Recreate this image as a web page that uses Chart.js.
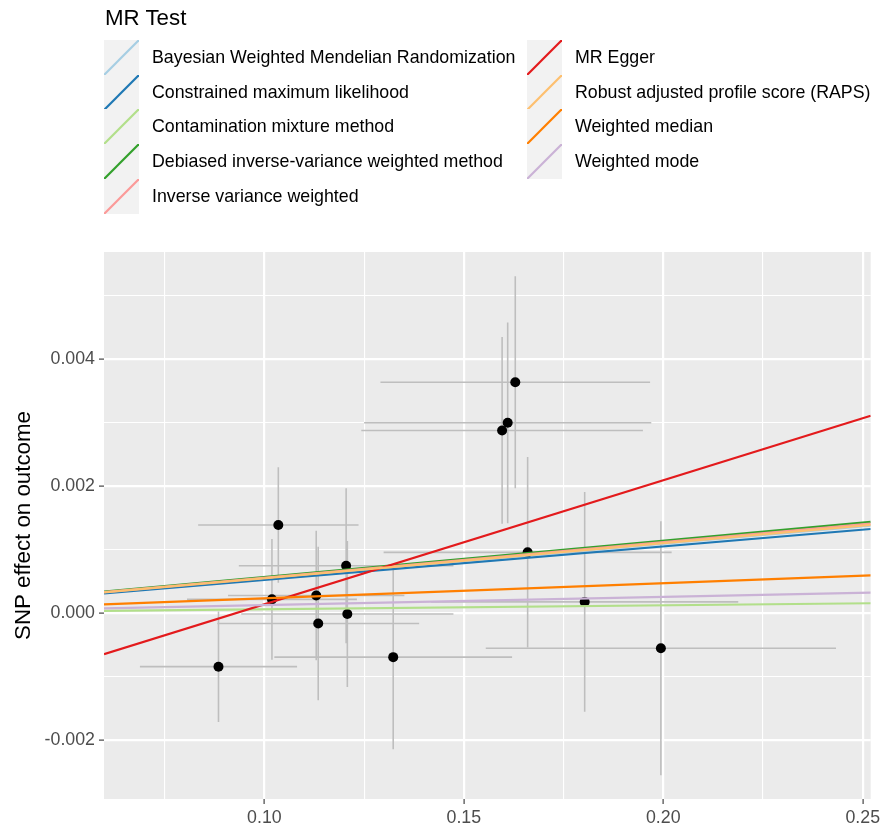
<!DOCTYPE html>
<html>
<head>
<meta charset="utf-8">
<script src="https://cdn.jsdelivr.net/npm/chart.js@4.4.1/dist/chart.umd.min.js"></script>
<style>
  body { margin: 0; background: #fff; font-family: "Liberation Sans", Arial, sans-serif; }
  #wrap { position: relative; width: 886px; height: 827px; overflow: hidden; }
  #chart { position: absolute; left: 0; top: 0; }
  .legend-title { position: absolute; left: 105px; top: 5px; font-size: 22.3px; color: #000; }
  .key { position: absolute; width: 35px; height: 35px; }
  .label { position: absolute; font-size: 17.8px; color: #000; line-height: 35px; white-space: nowrap; }
</style>
</head>
<body>
<div id="wrap">
  <canvas id="chart" width="886" height="827"></canvas>
  <div class="legend-title">MR Test</div>
  <div id="legend"></div>
</div>
<script>
// MR methods, colours (RColorBrewer Paired) and fitted lines
var methods = [
  "Bayesian Weighted Mendelian Randomization",
  "Constrained maximum likelihood",
  "Contamination mixture method",
  "Debiased inverse-variance weighted method",
  "Inverse variance weighted",
  "MR Egger",
  "Robust adjusted profile score (RAPS)",
  "Weighted median",
  "Weighted mode"
];
var methodColors = ["#A6CEE3", "#1F78B4", "#B2DF8A", "#33A02C", "#FB9A99", "#E31A1C", "#FDBF6F", "#FF7F00", "#CAB2D6"];
var methodIntercepts = [0, 0, 0, 0, 0, -0.00181, 0, 0, 0];
var methodSlopes = [0.00548, 0.00527, 0.00063, 0.00571, 0.00560, 0.01953, 0.00553, 0.002375, 0.00129];

// SNP effects on exposure / outcome with standard errors
var snpBetaExposure = [0.0885, 0.1035, 0.1019, 0.1130, 0.1135, 0.1205, 0.1208, 0.1323, 0.1596, 0.1610, 0.1629, 0.1660, 0.1803, 0.1994];
var snpSeExposure = [0.0197, 0.0201, 0.0213, 0.0221, 0.0253, 0.0269, 0.0266, 0.0298, 0.0353, 0.0360, 0.0338, 0.0361, 0.0385, 0.0439];
var snpBetaOutcome = [-0.00084, 0.00139, 0.00022, 0.00028, -0.00016, 0.00075, -0.00001, -0.00069, 0.00288, 0.00300, 0.00364, 0.00096, 0.00018, -0.00055];
var snpSeOutcome = [0.00087, 0.00091, 0.00095, 0.00102, 0.00121, 0.00122, 0.00115, 0.00145, 0.00147, 0.00158, 0.00167, 0.00150, 0.00173, 0.00200];

// axes
var xMin = 0.0598, xMax = 0.2520;
var yMin = -0.002924, yMax = 0.00569;
var xMajorTicks = [0.10, 0.15, 0.20, 0.25];
var xMinorTicks = [0.075, 0.125, 0.175, 0.225];
var yMajorTicks = [-0.002, 0.000, 0.002, 0.004];
var yMinorTicks = [-0.001, 0.001, 0.003, 0.005];

// legend (two columns, like ggplot)
var legendBox = document.getElementById("legend");
methods.forEach(function (name, i) {
  var col = i < 5 ? 0 : 1;
  var row = i < 5 ? i : i - 5;
  var left = col === 0 ? 104 : 527;
  var top = 40 + row * 34.7;
  var key = document.createElement("div");
  key.className = "key";
  key.style.left = left + "px";
  key.style.top = top + "px";
  key.innerHTML = '<svg width="35" height="35"><rect width="35" height="35" fill="#F2F2F2"/>' +
    '<line x1="0" y1="35" x2="35" y2="0" stroke="' + methodColors[i] + '" stroke-width="2.2"/></svg>';
  legendBox.appendChild(key);
  var lab = document.createElement("div");
  lab.className = "label";
  lab.style.left = (left + 48) + "px";
  lab.style.top = top + "px";
  lab.textContent = name;
  legendBox.appendChild(lab);
});

function isIn(list, v) {
  return list.some(function (t) { return Math.abs(t - v) < 1e-9; });
}

var datasets = [];

// regression lines on top
methods.forEach(function (name, i) {
  datasets.push({
    label: name,
    showLine: true,
    data: [
      { x: xMin, y: methodIntercepts[i] + methodSlopes[i] * xMin },
      { x: xMax, y: methodIntercepts[i] + methodSlopes[i] * xMax }
    ],
    borderColor: methodColors[i],
    borderWidth: 2.2,
    pointRadius: 0,
    order: -i
  });
});

// points
datasets.push({
  label: "SNPs",
  data: snpBetaExposure.map(function (x, i) { return { x: x, y: snpBetaOutcome[i] }; }),
  backgroundColor: "#000",
  borderWidth: 0,
  pointRadius: 5,
  order: 10
});

// error bars, broken with null points
var hBars = [], vBars = [];
for (var i = 0; i < snpBetaExposure.length; i++) {
  hBars.push({ x: snpBetaExposure[i] - snpSeExposure[i], y: snpBetaOutcome[i] });
  hBars.push({ x: snpBetaExposure[i] + snpSeExposure[i], y: snpBetaOutcome[i] });
  hBars.push({ x: snpBetaExposure[i], y: null });
  vBars.push({ x: snpBetaExposure[i], y: snpBetaOutcome[i] - snpSeOutcome[i] });
  vBars.push({ x: snpBetaExposure[i], y: snpBetaOutcome[i] + snpSeOutcome[i] });
  vBars.push({ x: snpBetaExposure[i], y: null });
}
[hBars, vBars].forEach(function (d) {
  datasets.push({
    label: "se",
    showLine: true,
    spanGaps: false,
    data: d,
    borderColor: "#BEBEBE",
    borderWidth: 1.6,
    pointRadius: 0,
    order: 20
  });
});

var panelBg = {
  id: "panelBg",
  beforeDraw: function (chart) {
    var a = chart.chartArea, ctx = chart.ctx;
    ctx.save();
    ctx.fillStyle = "#EBEBEB";
    ctx.fillRect(a.left, a.top, a.right - a.left, a.bottom - a.top);
    ctx.restore();
  }
};

function gridOpts(major) {
  return {
    color: "#FFFFFF",
    lineWidth: function (c) { return isIn(major, c.tick.value) ? 2.2 : 1.1; },
    tickColor: function (c) { return isIn(major, c.tick.value) ? "#333333" : "rgba(0,0,0,0)"; },
    tickLength: 5,
    tickWidth: 1.1,
    drawTicks: true
  };
}

new Chart(document.getElementById("chart"), {
  type: "scatter",
  data: { datasets: datasets },
  plugins: [panelBg],
  options: {
    responsive: false,
    animation: false,
    devicePixelRatio: 1,
    layout: { padding: { top: 252, right: 15.3, left: 0, bottom: 0 } },
    plugins: { legend: { display: false }, tooltip: { enabled: false } },
    events: [],
    scales: {
      x: {
        type: "linear",
        min: xMin,
        max: xMax,
        afterBuildTicks: function (s) {
          s.ticks = xMinorTicks.concat(xMajorTicks).sort(function (a, b) { return a - b; })
            .map(function (v) { return { value: v }; });
        },
        afterFit: function (s) { s.height = 28; },
        grid: gridOpts(xMajorTicks),
        border: { display: false },
        ticks: {
          autoSkip: false,
          maxRotation: 0,
          padding: 3,
          color: "#4D4D4D",
          font: { family: "'Liberation Sans', Arial", size: 17.8 },
          callback: function (v) { return isIn(xMajorTicks, v) ? v.toFixed(2) : ""; }
        }
      },
      y: {
        type: "linear",
        min: yMin,
        max: yMax,
        afterBuildTicks: function (s) {
          s.ticks = yMinorTicks.concat(yMajorTicks).sort(function (a, b) { return a - b; })
            .map(function (v) { return { value: v }; });
        },
        afterFit: function (s) { s.width = 104; },
        grid: gridOpts(yMajorTicks),
        border: { display: false },
        title: {
          display: true,
          text: "SNP effect on outcome",
          color: "#000",
          font: { family: "'Liberation Sans', Arial", size: 22.3 },
          padding: { top: 10, bottom: 0 }
        },
        ticks: {
          autoSkip: false,
          padding: 4,
          color: "#4D4D4D",
          font: { family: "'Liberation Sans', Arial", size: 17.8 },
          callback: function (v) { return isIn(yMajorTicks, v) ? v.toFixed(3) : ""; }
        }
      }
    }
  }
});
</script>
</body>
</html>
